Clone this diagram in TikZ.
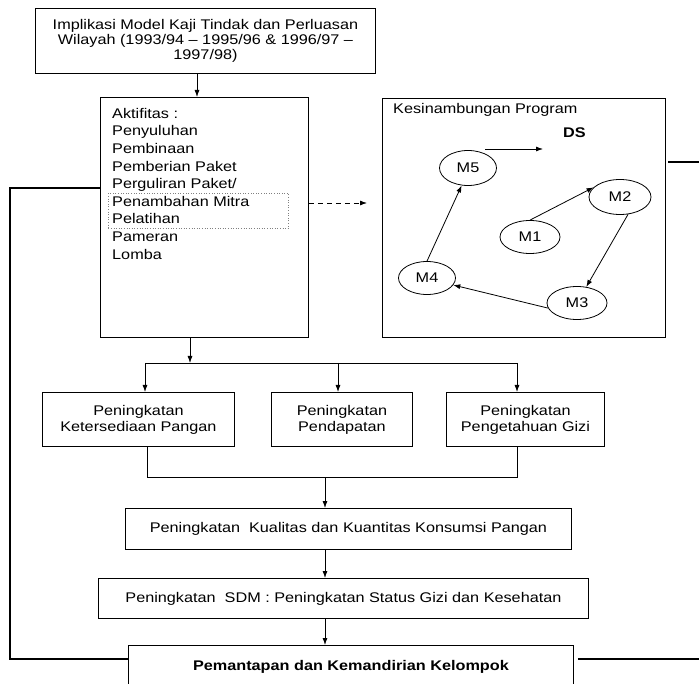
\documentclass[tikz,border=0pt]{standalone}
\usepackage{fontspec}
\setmainfont[FakeStretch=1.16]{Liberation Sans}
\usetikzlibrary{shapes.geometric,arrows.meta,calc}
\begin{document}
\begin{tikzpicture}[x=1pt,y=-1pt,
  every node/.style={font=\fontsize{14}{17}\selectfont, inner sep=0pt},
  box/.style={draw=black, line width=0.9pt, rectangle, anchor=north west},
  ell/.style={draw=black, line width=0.8pt, ellipse, inner sep=0pt},
  arr/.style={draw=black, line width=0.8pt, -{Latex[length=7pt,width=5pt]}},
  link/.style={draw=black, line width=0.8pt},
  fb/.style={draw=black, line width=2.6pt},
  dotbox/.style={draw=gray, dotted, line width=0.6pt, anchor=north west},
]
\useasboundingbox (0,0) rectangle (699,684);
\clip (0,0) rectangle (699,684);
\fill[white] (0,0) rectangle (699,684);

% top box
\node[box, minimum width=340pt, minimum height=65pt, align=center,
      font=\fontsize{14}{15}\selectfont] (top) at (35,8)
  {Implikasi Model Kaji Tindak dan Perluasan\\Wilayah (1993/94 -- 1995/96 \& 1996/97 --\\1997/98)};

% Aktifitas box
\node[box, minimum width=208pt, minimum height=240pt] (akt) at (100,97) {};
\node[dotbox, minimum width=180pt, minimum height=35pt] (dot) at (108,193) {};
\node[anchor=north west, align=left, font=\fontsize{14}{17.6}\selectfont] (akttxt) at (112,108)
  {Aktifitas :\\Penyuluhan\\Pembinaan\\Pemberian Paket\\Perguliran Paket/\\Penambahan Mitra\\Pelatihan\\Pameran\\Lomba};

% Kesinambungan box
\node[box, minimum width=283pt, minimum height=239pt] (kes) at (382,98) {};
\node[anchor=west] (kestitle) at (393,110) {Kesinambungan Program};
\node[anchor=west, font=\bfseries\fontsize{14}{17}\selectfont] (ds) at (563,133) {DS};

\node[ell, minimum width=57pt, minimum height=35pt] (m5) at (468,168) {M5};
\node[ell, minimum width=62pt, minimum height=35pt] (m2) at (620,197) {M2};
\node[ell, minimum width=60pt, minimum height=33pt] (m1) at (530,237) {M1};
\node[ell, minimum width=57pt, minimum height=33pt] (m4) at (427,278) {M4};
\node[ell, minimum width=60pt, minimum height=33pt] (m3) at (577,303) {M3};

\draw[arr] (m1.north) -- (m2.160);
\draw[arr] (m2.295) -- (m3.60);
\draw[arr] (m3.190) -- (m4.345);
\draw[arr] (m4.north) -- (m5.250);
\coordinate (dsa) at (485,149);
\coordinate (dsb) at (543,149);
\draw[arr] (dsa) -- (dsb);

% top -> Aktifitas
\coordinate (a1) at (197,0);
\draw[arr] (top.south -| a1) -- (akt.north -| a1);

% dashed Aktifitas -> Kesinambungan
\coordinate (dy) at (0,203);
\draw[arr, dash pattern=on 5pt off 4pt, shorten >=15pt] (akt.east |- dy) -- (kes.west |- dy);

% three boxes
\node[box, minimum width=192pt, minimum height=54pt, align=center, font=\fontsize{14}{16}\selectfont] (ket) at (42,392) {Peningkatan\\Ketersediaan Pangan};
\node[box, minimum width=141pt, minimum height=54pt, align=center, font=\fontsize{14}{16}\selectfont] (pend) at (271,392) {Peningkatan\\Pendapatan};
\node[box, minimum width=158pt, minimum height=54pt, align=center, font=\fontsize{14}{16}\selectfont] (gizi) at (446,392) {Peningkatan\\Pengetahuan Gizi};

% split
\coordinate (split) at (190,363);
\coordinate (sl) at (145,363);
\coordinate (sm) at (338,363);
\coordinate (sr) at (517,363);
\draw[arr] (akt.south -| split) -- (split);
\draw[link] (sl) -- (sr);
\draw[arr] (sl) -- (ket.north -| sl);
\draw[arr] (sm) -- (pend.north -| sm);
\draw[arr] (sr) -- (gizi.north -| sr);

% lower boxes
\node[box, minimum width=446pt, minimum height=41pt] (kual) at (125,508) {Peningkatan\ \ Kualitas dan Kuantitas Konsumsi Pangan};
\node[box, minimum width=490pt, minimum height=40pt] (sdm) at (98,578) {Peningkatan\ \ SDM : Peningkatan Status Gizi dan Kesehatan};
\node[box, minimum width=445pt, minimum height=42pt, font=\bfseries\fontsize{14}{17}\selectfont] (pem) at (128,645) {Pemantapan dan Kemandirian Kelompok};

% merge
\coordinate (ml) at (147,477);
\coordinate (mr) at (517,477);
\coordinate (mc) at (325,477);
\draw[link] (ket.south -| ml) -- (ml) -- (mr) -- (gizi.south -| mr);
\draw[arr] (mc) -- (kual.north -| mc);
\draw[arr] (kual.south -| mc) -- (sdm.north -| mc);
\draw[arr] (sdm.south -| mc) -- (pem.north -| mc);

% feedback lines
\coordinate (fbL) at (10,659);
\coordinate (fbLT) at (10,188);
\coordinate (fbR) at (699,659);
\coordinate (fbRT) at (699,162);
\draw[fb] (pem.west |- fbL) -- (fbL) -- (fbLT) -- (akt.west |- fbLT);
\draw[fb, shorten <=4pt] (pem.east |- fbR) -- (fbR);
\draw[fb, shorten >=2pt] (fbRT) -- (kes.east |- fbRT);
\end{tikzpicture}
\end{document}
